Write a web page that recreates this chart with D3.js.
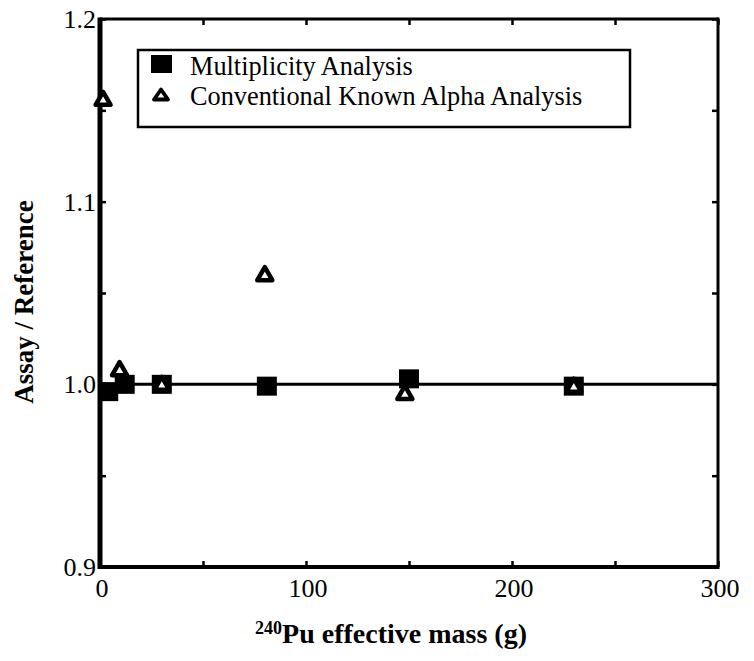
<!DOCTYPE html>
<html>
<head>
<meta charset="utf-8">
<script src="https://cdn.jsdelivr.net/npm/d3@7"></script>
<style>
  html, body { margin: 0; padding: 0; background: #fff; }
  svg { display: block; }
  text { font-family: "Liberation Serif", "Times New Roman", serif; fill: #000; }
</style>
</head>
<body>
<svg id="chart" width="754" height="661"></svg>
<script>
// ---- data ----
const multMass  = [4, 12, 30, 81, 150, 230];
const multRatio = [0.996, 1.000, 1.000, 0.999, 1.003, 0.999];
const convMass  = [1.5, 9.5, 30, 80, 148, 230];
const convRatio = [1.156, 1.008, 1.000, 1.060, 0.995, 0.999];
const xTickValues = [0, 100, 200, 300];
const yTickValues = [0.9, 1.0, 1.1, 1.2];
const xMinorTicks = [0, 50, 100, 150, 200, 250, 300];
const yMinorTicks = [0.9, 0.95, 1.0, 1.05, 1.1, 1.15, 1.2];
const legendLabels = ["Multiplicity Analysis", "Conventional Known Alpha Analysis"];
const xTitleSup = "240";
const xTitleMain = "Pu effective mass (g)";
const yTitle = "Assay / Reference";
const referenceValue = 1.0;

// ---- layout ----
const L = 100, R = 718, T = 19, B = 567;
const svg = d3.select("#chart");
const x = d3.scaleLinear().domain([0, 300]).range([L, R]);
const y = d3.scaleLinear().domain([0.9, 1.2]).range([B, T]);

// inward ticks on all four sides
const tickLen = 6;
const axB = d3.axisBottom(x).tickValues(xMinorTicks).tickSizeInner(-tickLen).tickSizeOuter(0).tickFormat("");
const axT = d3.axisTop(x).tickValues(xMinorTicks).tickSizeInner(-tickLen).tickSizeOuter(0).tickFormat("");
const axL = d3.axisLeft(y).tickValues(yMinorTicks).tickSizeInner(-tickLen).tickSizeOuter(0).tickFormat("");
const axR = d3.axisRight(y).tickValues(yMinorTicks).tickSizeInner(-tickLen).tickSizeOuter(0).tickFormat("");
[[axB, `translate(0,${B})`], [axT, `translate(0,${T})`], [axL, `translate(${L},0)`], [axR, `translate(${R},0)`]]
  .forEach(([ax, tr]) => {
    const g = svg.append("g").attr("transform", tr).call(ax);
    g.select(".domain").remove();
    g.selectAll(".tick line").attr("stroke", "#000").attr("stroke-width", 2.5);
  });

// frame
svg.append("line").attr("x1", L).attr("x2", R).attr("y1", T).attr("y2", T).attr("stroke", "#000").attr("stroke-width", 3);
svg.append("line").attr("x1", L).attr("x2", R).attr("y1", B).attr("y2", B).attr("stroke", "#000").attr("stroke-width", 4);
svg.append("line").attr("x1", R).attr("x2", R).attr("y1", T - 1.5).attr("y2", B + 2).attr("stroke", "#000").attr("stroke-width", 3);
svg.append("line").attr("x1", L).attr("x2", L).attr("y1", T - 1.5).attr("y2", B + 2).attr("stroke", "#000").attr("stroke-width", 5);

// reference line at 1.0
svg.append("line").attr("x1", L).attr("x2", R)
  .attr("y1", y(referenceValue)).attr("y2", y(referenceValue))
  .attr("stroke", "#000").attr("stroke-width", 3);

// tick labels
svg.append("g").selectAll("text").data(xTickValues).join("text")
  .attr("x", d => x(d) + 2).attr("y", B + 30)
  .attr("text-anchor", "middle").attr("font-size", 26)
  .text(d => d3.format("d")(d));
svg.append("g").selectAll("text").data(yTickValues).join("text")
  .attr("x", L - 4).attr("y", d => y(d) + 9)
  .attr("text-anchor", "end").attr("font-size", 26)
  .text(d => d3.format(".1f")(d));

// axis titles
const xt = svg.append("text").attr("x", 391).attr("y", 643)
  .attr("text-anchor", "middle").attr("font-weight", "bold").attr("font-size", 28);
xt.append("tspan").attr("font-size", 18).attr("dy", -9).text(xTitleSup);
xt.append("tspan").attr("dy", 9).text(xTitleMain);

svg.append("text").attr("transform", "translate(33,302) rotate(-90)")
  .attr("text-anchor", "middle").attr("font-weight", "bold").attr("font-size", 27)
  .text(yTitle);

// markers
const triPath = "M0,-7.5 L7.5,5.5 L-7.5,5.5 Z";
const multData = multMass.map((m, i) => ({ m, r: multRatio[i] }));
const convData = convMass.map((m, i) => ({ m, r: convRatio[i] }));

svg.append("g").selectAll("rect").data(multData).join("rect")
  .attr("x", d => x(d.m) - 10).attr("y", d => y(d.r) - 9.5)
  .attr("width", 20).attr("height", 19).attr("fill", "#000");

svg.append("g").selectAll("path").data(convData).join("path")
  .attr("transform", d => `translate(${x(d.m)},${y(d.r)})`)
  .attr("d", triPath).attr("fill", "#fff").attr("stroke", "#000")
  .attr("stroke-width", 4.5).attr("stroke-linejoin", "round");

// legend
const lg = svg.append("g");
lg.append("rect").attr("x", 138).attr("y", 50).attr("width", 492).attr("height", 77)
  .attr("fill", "#fff").attr("stroke", "#000").attr("stroke-width", 2.5);
lg.append("rect").attr("x", 151).attr("y", 55).attr("width", 21).attr("height", 18).attr("fill", "#000");
lg.append("path").attr("transform", "translate(161,95)").attr("d", "M0,-5.5 L7,4.5 L-7,4.5 Z")
  .attr("fill", "#fff").attr("stroke", "#000").attr("stroke-width", 3.8).attr("stroke-linejoin", "round");
lg.selectAll("text.lab").data(legendLabels).join("text").attr("class", "lab")
  .attr("x", 190).attr("y", (d, i) => 75 + i * 30)
  .attr("font-size", 26.3)
  .text(d => d);
</script>
</body>
</html>
